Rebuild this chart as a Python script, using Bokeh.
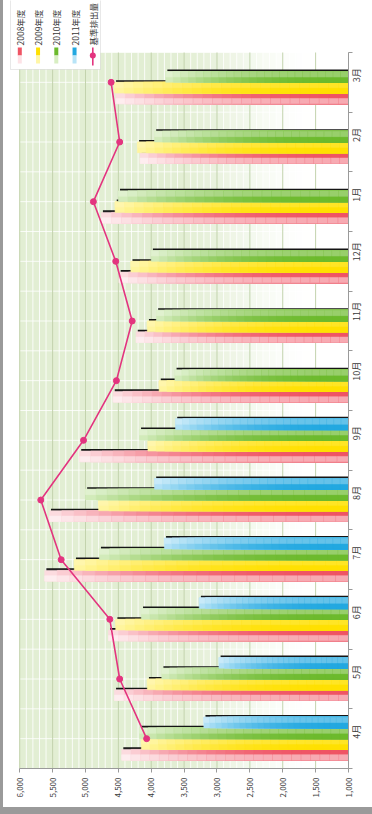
import math

import numpy as np
from bokeh.embed import file_html
from bokeh.models import (BoxAnnotation, ColumnDataSource, FixedTicker, Label,
                          NumeralTickFormatter, Range1d)
from bokeh.plotting import figure
from bokeh.resources import INLINE

# ---- data -------------------------------------------------------------
months = ["4月", "5月", "6月", "7月", "8月", "9月",
          "10月", "11月", "12月", "1月", "2月", "3月"]
fy2008 = [4450, 4560, 4650, 5620, 5550, 5090, 4580, 4230, 4490, 4760, 4170, 4540]
fy2009 = [4150, 4060, 4540, 5170, 4800, 4050, 3880, 4060, 4310, 4550, 4210, 4560]
fy2010 = [4180, 3840, 4150, 4790, 5000, 4180, 3640, 3920, 4000, 4500, 3950, 3780]
fy2011 = [3200, 2970, 3270, 3800, 3950, 3630, None, None, None, None, None, None]
baseline = [4070, 4480, 4630, 5370, 5680, 5030, 4530, 4290, 4540, 4880, 4480, 4610]
series_names = ["2008年度", "2009年度", "2010年度", "2011年度"]
line_name = "基準排出量"
value_ticks = [1000, 1500, 2000, 2500, 3000, 3500, 4000, 4500, 5000, 5500, 6000]

# ---- layout (pixels) --------------------------------------------------
W, H = 372, 814
PLOT_L, PLOT_R = 19.3, 349.0    # value axis span 6000 -> 1000
PLOT_T, PLOT_B = 52.0, 768.0    # month axis span 3月 -> 4月
FONT = "Noto Sans CJK JP"
V_MIN, V_MAX = 1000, 6000
N_CAT = len(months)
px_per_val = (PLOT_R - PLOT_L) / (V_MAX - V_MIN)
px_per_cat = (PLOT_B - PLOT_T) / N_CAT
x_start = V_MAX + PLOT_L / px_per_val             # frame reaches the left edge
y_end = N_CAT - 0.5 + PLOT_T / px_per_cat         # frame reaches the top edge

BAR_W = 0.18                       # thickness of one bar (category units)
SH_DX, SH_DY = 25, 0.035           # drop-shadow offset (value / category units)
GRAD_STEPS = 24
sat_cols = ["#ef5464", "#ffe000", "#6cba2c", "#22a8e0"]
pale_cols = ["#fde2e6", "#fff6a6", "#d8eec2", "#b8e4f7"]
hi_amount = [0.5, 0.15, 0.3, 0.3]  # sheen on one half of each bar
LINE_COL = "#e3347f"
TXT = "#3a3a3a"


def hex2rgb(c):
    c = c.lstrip("#")
    return [int(c[i:i + 2], 16) for i in (0, 2, 4)]


def mix(c1, c2, t):
    a, b = hex2rgb(c1), hex2rgb(c2)
    return "#%02x%02x%02x" % tuple(int(round(a[i] + (b[i] - a[i]) * t)) for i in range(3))


def screen_box(left, right, bottom, top, color, **kw):
    return BoxAnnotation(left=left, right=right, top=top, bottom=bottom,
                         left_units="screen", right_units="screen",
                         top_units="screen", bottom_units="screen",
                         fill_color=color, fill_alpha=1, level="overlay", **kw)


# transparent canvas so the page edge (an inset shadow on the host) shows
# along the left and bottom sides
p = figure(width=W, height=H,
           x_range=Range1d(x_start, V_MIN), y_range=Range1d(-0.5, y_end),
           y_axis_location="right", output_backend="svg", toolbar_location=None,
           min_border_left=0, min_border_right=int(round(W - PLOT_R)), min_border_top=0,
           min_border_bottom=int(round(H - PLOT_B)),
           background_fill_alpha=0, border_fill_alpha=0,
           outline_line_color=None,
           styles={"background-color": "#ffffff",
                   "box-shadow": "inset 3px -7px 0 0 #9a9a9a"})
p.xgrid.visible = False
p.ygrid.visible = False

# plot-area wash: pale green on the high side fading to white
edges = np.linspace(V_MIN, V_MAX, 51)
band_cols = []
for lo, hi in zip(edges[:-1], edges[1:]):
    s = min(max(((lo + hi) / 2 - 1500) / 2300, 0), 1)
    s = s * s * (3 - 2 * s)
    band_cols.append(mix("#ffffff", "#e2eed3", s))
top_edge = N_CAT - 0.5
p.quad(left=edges[:-1], right=edges[1:], bottom=-0.5, top=top_edge,
       fill_color=band_cols, line_color=band_cols, line_width=1, level="image")

# grid lines, limited to the plot area
minor_vals = [v for v in range(V_MIN, V_MAX + 1, 100) if v % 500]
p.segment(x0=minor_vals, x1=minor_vals, y0=-0.5, y1=top_edge,
          line_color="#ffffff", line_alpha=0.85, line_width=1, level="image")
half_rows = [i * 0.5 - 0.5 for i in range(2 * N_CAT + 1)]
p.segment(x0=V_MIN, x1=V_MAX, y0=half_rows, y1=half_rows,
          line_color="#ffffff", line_alpha=0.8, line_width=1, level="image")
p.segment(x0=value_ticks, x1=value_ticks, y0=-0.5, y1=top_edge,
          line_color="#c3d3ad", line_width=1, level="image")

# bars: drop shadows first, then the gradient-filled bars
series = [fy2008, fy2009, fy2010, fy2011]
sh = dict(y=[], left=[], right=[])
bars = dict(y=[], right=[], h=[], color=[])
for k, vals in enumerate(series):
    for i, v in enumerate(vals):
        if v is None:
            continue
        yc = i + (k - 1.5) * BAR_W
        sh["y"].append(yc + SH_DY)
        sh["left"].append(V_MIN - SH_DX)
        sh["right"].append(v - SH_DX)
        half_y = yc - BAR_W / 4 if k == 0 else yc + BAR_W / 4
        for j in range(GRAD_STEPS, 0, -1):
            end = V_MIN + (v - V_MIN) * j / GRAD_STEPS
            t = ((j - 0.5) / GRAD_STEPS) ** 2.5
            base = mix(sat_cols[k], pale_cols[k], t)
            bars["y"] += [yc, half_y]
            bars["right"] += [end, end]
            bars["h"] += [BAR_W, BAR_W / 2]
            bars["color"] += [base, mix(base, "#ffffff", hi_amount[k])]

p.hbar(y="y", left="left", right="right", height=BAR_W, source=ColumnDataSource(sh),
       fill_color="#141414", line_color=None)
p.hbar(y="y", left=V_MIN, right="right", height="h", source=ColumnDataSource(bars),
       fill_color="color", line_color="color", line_width=0.6)

# baseline emissions line
idx = list(range(N_CAT))
p.line(x=baseline, y=idx, line_color=LINE_COL, line_width=1.6)
p.scatter(x=baseline, y=idx, size=6, fill_color=LINE_COL, line_color=LINE_COL)

# value axis (bottom)
ax = p.xaxis[0]
ax.bounds = (V_MIN, V_MAX)
ax.ticker = FixedTicker(ticks=value_ticks)
ax.formatter = NumeralTickFormatter(format="0,0")
ax.major_label_orientation = math.pi / 2
ax.major_label_text_font = FONT
ax.major_label_text_font_size = "8px"
ax.major_label_text_color = TXT
ax.major_label_standoff = 5
ax.major_tick_out = 4
ax.major_tick_in = 0
ax.minor_tick_out = 0
ax.minor_tick_in = 0
ax.axis_line_color = "#9a9a9a"
ax.major_tick_line_color = "#9a9a9a"

# month axis (right)
ay = p.yaxis[0]
ay.bounds = (-0.5, top_edge)
ay.ticker = FixedTicker(ticks=idx, minor_ticks=[i - 0.5 for i in range(N_CAT + 1)])
ay.major_label_overrides = {i: m for i, m in enumerate(months)}
ay.major_label_orientation = math.pi / 2
ay.major_label_text_font = FONT
ay.major_label_text_font_size = "9px"
ay.major_label_text_color = TXT
ay.major_label_standoff = 4
ay.major_tick_out = 0
ay.major_tick_in = 0
ay.minor_tick_out = 4
ay.minor_tick_in = 0
ay.axis_line_color = "#9a9a9a"
ay.minor_tick_line_color = "#9a9a9a"

# legend, drawn rotated like the rest of the chart (screen units from frame bottom-left)
LEG_X0, LEG_DX = 19.3, 18.25
sy = PLOT_B          # screen y of the page top edge
p.add_layout(screen_box(10, 100, sy - 69, sy + 2, "white",
                        line_color="#b4b4b4", line_width=1))
for n, name in enumerate(series_names + [line_name]):
    xc = LEG_X0 + n * LEG_DX
    p.add_layout(Label(x=xc, y=sy - 45, x_units="screen", y_units="screen",
                       text=name, angle=math.pi / 2, text_align="left",
                       text_baseline="middle", text_font=FONT,
                       text_font_size="8.5px", text_color=TXT, level="overlay"))
    if n < len(series_names):
        p.add_layout(screen_box(xc - 2, xc + 2, sy - 55, sy - 47,
                                sat_cols[n], line_color=None))
        p.add_layout(screen_box(xc - 2, xc + 2, sy - 63, sy - 55,
                                pale_cols[n], line_color=None))
    else:
        p.add_layout(screen_box(xc - 0.8, xc + 0.8, sy - 65, sy - 47,
                                LINE_COL, line_color=None))
        p.add_layout(screen_box(xc - 3, xc + 3, sy - 58, sy - 52,
                                LINE_COL, line_color=None, border_radius=3))

open("out.html", "w").write(file_html(p, INLINE))
